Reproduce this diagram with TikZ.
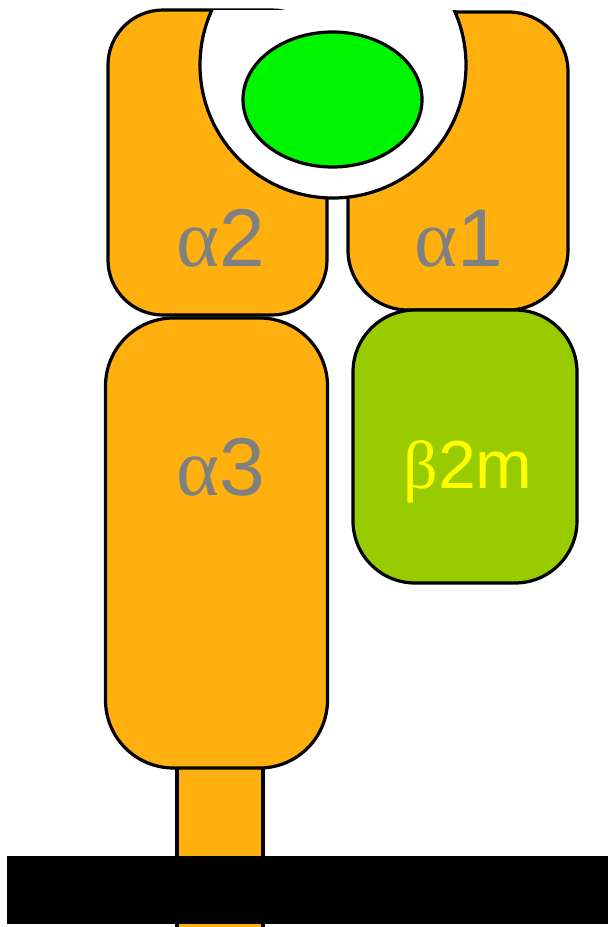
\documentclass[tikz,border=0pt]{standalone}
\usepackage{fontspec}
\usetikzlibrary{shapes.geometric}
\setmainfont{Liberation Sans}
\newfontfamily\grk{Liberation Serif}
\definecolor{dorange}{RGB}{255,176,14}
\definecolor{dgreen}{RGB}{153,204,0}
\definecolor{pgreen}{RGB}{0,245,0}
\definecolor{lblgray}{RGB}{128,128,128}
\definecolor{lblyellow}{RGB}{255,255,0}
\begin{document}
\begin{tikzpicture}[x=1pt,y=-1pt,
  protbox/.style={draw=black,line width=3.2pt,rectangle,inner sep=0pt,fill=dorange},
  lbl/.style={text=lblgray,font=\fontsize{82}{82}\selectfont,anchor=base,inner sep=0pt},
  blbl/.style={text=lblyellow,font=\fontsize{68}{68}\selectfont,anchor=base,inner sep=0pt}]
\useasboundingbox (0,0) rectangle (608,927);
% stem
\node[protbox,minimum width=86pt,minimum height=170pt] (stem) at (220,848) {};
% alpha1, alpha2
\node[protbox,rounded corners=60pt,minimum width=220pt,minimum height=298pt] (a1) at (458,161) {};
\node[protbox,rounded corners=55pt,minimum width=219pt,minimum height=305pt] (a2) at (217.5,162.5) {};
% alpha3
\node[protbox,rounded corners=68pt,minimum width=222pt,minimum height=450pt] (a3) at (216.5,543) {};
% beta2m
\node[protbox,fill=dgreen,rounded corners=62pt,minimum width=224pt,minimum height=273pt] (b2m) at (465,446.5) {};
% groove
\begin{scope}
\clip (0,10) rectangle (608,927);
\node[draw=black,line width=3.2pt,fill=white,circle,inner sep=0pt,minimum size=266pt] (groove) at (333,65) {};
\end{scope}
\node[draw=black,line width=3.2pt,fill=pgreen,ellipse,inner sep=0pt,minimum width=179pt,minimum height=135pt] (pep) at (332.5,99.5) {};
% membrane
\node[fill=black,rectangle,inner sep=0pt,minimum width=601pt,minimum height=68pt] (mem) at (307.5,890) {};
% labels
\node[lbl] (t2) at (221,266) {{\grk α}2};
\node[lbl] (t1) at (459,266) {{\grk α}1};
\node[lbl] (t3) at (221,495) {{\grk α}3};
\node[blbl] (tb) at (468,488) {{\grk β}2m};
\end{tikzpicture}
\end{document}
